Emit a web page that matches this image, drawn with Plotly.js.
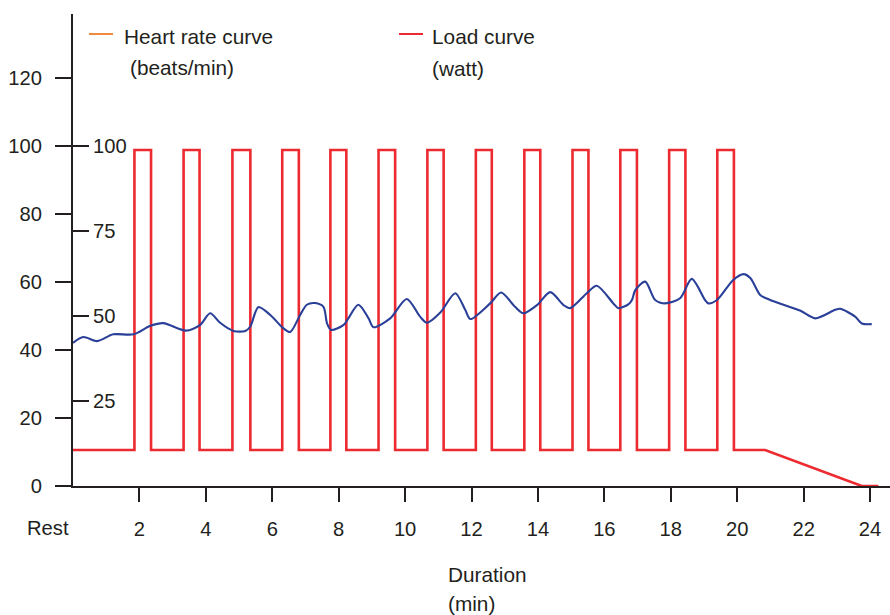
<!DOCTYPE html>
<html>
<head>
<meta charset="utf-8">
<script src="https://cdn.plot.ly/plotly-3.0.1.min.js"></script>
<style>html,body{margin:0;padding:0;background:#fff;}#chart{width:890px;height:615px;}</style>
</head>
<body>
<div id="chart"></div>
<script>
// ---- Data ----
const hrMinutes = [0.00,0.31,0.73,1.21,1.82,2.33,2.72,3.40,3.83,4.13,4.43,4.83,5.19,5.34,5.58,5.94,6.33,6.54,6.84,7.04,7.29,7.54,7.65,7.77,8.15,8.59,8.90,9.05,9.55,10.05,10.45,10.66,11.06,11.51,11.81,11.96,12.56,12.89,13.31,13.56,13.97,14.37,14.77,14.97,15.47,15.77,16.27,16.42,16.73,16.83,16.93,17.23,17.53,17.83,18.28,18.63,19.03,19.13,19.39,19.88,20.19,20.40,20.69,20.99,21.89,22.35,22.95,23.10,23.55,23.75,24.05];
const heartRate = [42.1,43.8,42.6,44.6,44.6,47.1,47.9,45.7,47.4,50.8,48.0,45.6,45.6,46.9,52.6,50.3,46.4,45.3,50.3,53.3,53.8,52.7,47.8,45.9,47.4,53.3,49.3,46.7,49.3,55.0,49.8,48.0,51.0,56.7,51.8,49.1,53.7,56.9,52.7,50.8,53.2,57.0,53.2,52.3,56.7,58.9,53.7,52.3,53.5,54.7,57.6,60.1,54.7,53.7,55.2,60.9,54.7,53.7,54.7,60.6,62.3,61.1,56.2,54.7,51.6,49.3,51.8,52.1,49.8,47.8,47.6];

const loadRiseMin = [1.85,3.33,4.80,6.30,7.75,9.20,10.67,12.13,13.59,15.04,16.48,17.95,19.40];
const loadFallMin = [2.35,3.81,5.34,6.80,8.23,9.70,11.16,12.61,14.07,15.52,16.98,18.44,19.90];
const loadHighWatt = 98.8;
const loadLowWatt = 10.6;
const coolDownStartMin = 20.84;
const coolDownZeroMin = 23.75;
const loadEndMin = 24.25;

const yTickVals = [0,20,40,60,80,100,120];
const wattTickVals = [25,50,75,100];
const xTickVals = [0,2,4,6,8,10,12,14,16,18,20,22,24];
const xTickText = ['','2','4','6','8','10','12','14','16','18','20','22','24'];

// ---- Build load path from data ----
const loadX = [0], loadY = [loadLowWatt];
for (let i = 0; i < loadRiseMin.length; i++) {
  loadX.push(loadRiseMin[i], loadRiseMin[i], loadFallMin[i], loadFallMin[i]);
  loadY.push(loadLowWatt, loadHighWatt, loadHighWatt, loadLowWatt);
}
loadX.push(coolDownStartMin, coolDownZeroMin, loadEndMin);
loadY.push(loadLowWatt, 0, 0);

// ---- Layout helpers ----
const W = 890, H = 615, L = 73, R = 0, T = 14, B = 129;
const pw = W - L - R, ph = H - T - B;
const px = x => (x - L) / pw;
const py = y => (H - B - y) / ph;
const FONT = 'Liberation Sans, Arial, Helvetica, sans-serif';
const TXT = '#231f20';
const FS_TICK = 20.2;
const FS_ANN = 20.8;

const traces = [
  {x: loadX, y: loadY, type: 'scatter', mode: 'lines', line: {color: '#ec2a30', width: 2.6}, cliponaxis: false, showlegend: false, hoverinfo: 'skip'},
  {x: hrMinutes, y: heartRate, type: 'scatter', mode: 'lines', line: {color: '#2a3f98', width: 2.1, shape: 'spline', smoothing: 0.8}, showlegend: false, hoverinfo: 'skip'}
];

function ann(text, x, y, xanchor, size) {
  return {text: text, xref: 'paper', yref: 'paper', x: px(x), y: py(y), xanchor: xanchor || 'left', yanchor: 'middle', showarrow: false, font: {family: FONT, size: size || FS_ANN, color: TXT}};
}

const layout = {
  width: W, height: H,
  margin: {l: L, r: R, t: T, b: B, pad: 0},
  paper_bgcolor: '#fff', plot_bgcolor: '#fff',
  showlegend: false,
  font: {family: FONT, size: FS_TICK, color: TXT},
  xaxis: {
    range: [0, 24.6], showgrid: false, zeroline: false,
    showline: true, linecolor: '#231f20', linewidth: 2,
    ticks: 'outside', ticklen: 14, tickwidth: 2, tickcolor: '#231f20',
    tickvals: xTickVals, ticktext: xTickText, ticklabelstandoff: 10,
    tickfont: {family: FONT, size: FS_TICK, color: TXT}
  },
  yaxis: {
    range: [0, 138.8], showgrid: false, zeroline: false,
    showline: true, linecolor: '#231f20', linewidth: 2,
    ticks: 'outside', ticklen: 16, tickwidth: 2, tickcolor: '#231f20',
    tickvals: yTickVals, ticklabelstandoff: 9,
    tickfont: {family: FONT, size: FS_TICK, color: TXT}
  },
  yaxis2: {
    overlaying: 'y', side: 'left', anchor: 'x',
    range: [0, 138.8], showgrid: false, zeroline: false, showline: false,
    ticks: 'inside', ticklen: 16, tickwidth: 2, tickcolor: '#231f20',
    ticklabelposition: 'inside', tickvals: wattTickVals, ticklabelstandoff: 5,
    tickfont: {family: FONT, size: FS_TICK, color: TXT}
  },
  shapes: [
    {type: 'line', xref: 'paper', yref: 'paper', x0: px(89), x1: px(113), y0: py(34), y1: py(34), line: {color: '#f08a3c', width: 2}},
    {type: 'line', xref: 'paper', yref: 'paper', x0: px(399), x1: px(423), y0: py(34), y1: py(34), line: {color: '#ec2a30', width: 2}}
  ],
  annotations: [
    ann('Heart rate curve', 122, 37),
    ann('(beats/min)', 128, 67),
    ann('Load curve', 430, 37),
    ann('(watt)', 430, 68),
    ann('Rest', 47.5, 528, 'center', FS_TICK),
    ann('Duration', 446, 574),
    ann('(min)', 446, 603)
  ]
};

// dummy trace to activate yaxis2
traces.push({x: [null], y: [null], yaxis: 'y2', type: 'scatter', mode: 'lines', showlegend: false, hoverinfo: 'skip'});

Plotly.newPlot('chart', traces, layout, {staticPlot: true, displayModeBar: false});
</script>
</body>
</html>
